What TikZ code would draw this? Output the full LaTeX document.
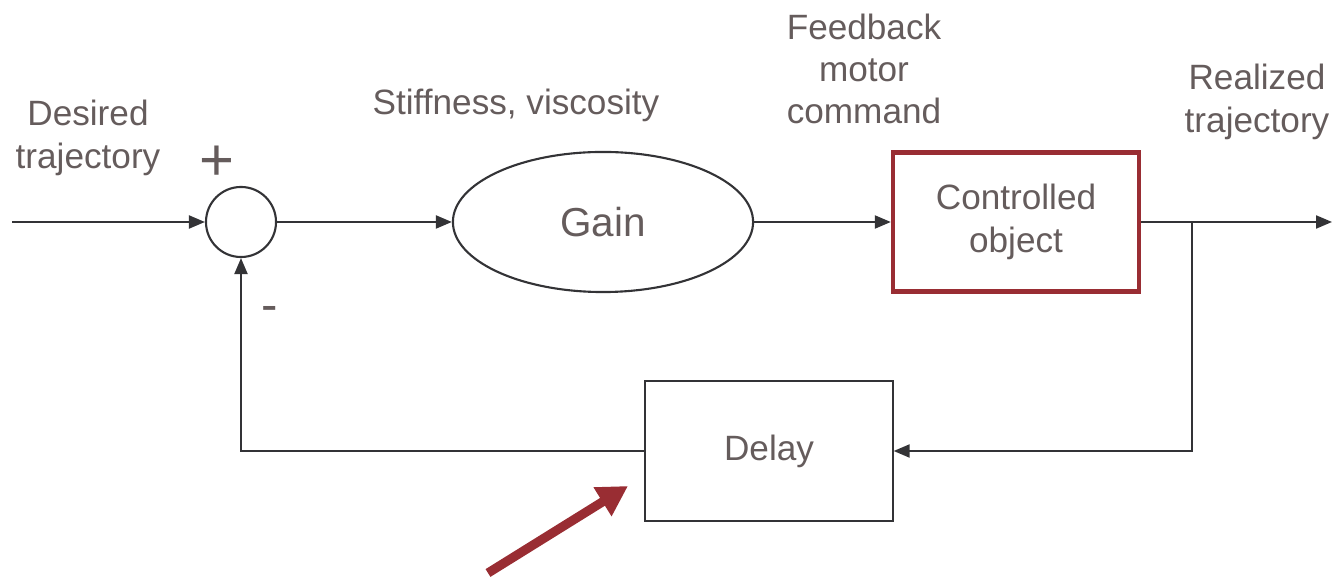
\documentclass[tikz,border=0pt]{standalone}
\usepackage{fontspec}
\setmainfont{Liberation Sans}
\usetikzlibrary{arrows.meta,shapes.geometric}

\definecolor{txtgray}{HTML}{655C5C}
\definecolor{linegray}{HTML}{333336}
\definecolor{boxred}{HTML}{992D33}

\tikzset{
  lbl/.style={text=txtgray, font=\fontsize{10}{12}\selectfont, align=center},
  wire/.style={draw=linegray, line width=0.6pt},
  sig/.style={wire, -{Triangle[length=0.16cm,width=0.13cm]}},
  sumnode/.style={circle, draw=linegray, line width=0.6pt, minimum size=0.7cm, inner sep=0pt},
  gainnode/.style={ellipse, draw=linegray, line width=0.6pt, minimum width=3cm, minimum height=1.4cm},
  plantbox/.style={draw=boxred, line width=1.2pt, minimum width=2.46cm, minimum height=1.39cm},
  delaybox/.style={draw=linegray, line width=0.6pt, minimum width=2.47cm, minimum height=1.4cm}
}

\begin{document}
\begin{tikzpicture}[x=0.01cm, y=-0.01cm]
\useasboundingbox (0,0) rectangle (1334,577);
% Blocks
\node[sumnode] (sum) at (241,222) {};
\node[gainnode, lbl, font=\fontsize{11.5}{13}\selectfont] (gain) at (603,222) {Gain};
\node[plantbox, lbl] (plant) at (1016,222) {Controlled\\object};
\node[delaybox, lbl] (delay) at (769,451) {Delay};
% Labels
\node[lbl] (desired) at (88,138) {Desired\\trajectory};
\node[lbl, font=\fontsize{17}{17}\selectfont] (plus) at (217,163) {+};
\node[lbl, font=\fontsize{14}{14}\selectfont] (minus) at (270,314) {-};
\node[lbl] (stiff) at (516,105) {Stiffness, viscosity};
\node[lbl] (cmd) at (864,69) {Feedback\\motor\\command};
\node[lbl] (realized) at (1257,102) {Realized\\trajectory};
% Free ends and corners
\coordinate (in) at (12,222);
\coordinate (out) at (1332,222);
\coordinate (tap) at (1192,222);
\coordinate (tapdown) at (1192,451);
\coordinate (back) at (241,451);
\coordinate (pointer) at (488,573);
\coordinate (pointtip) at (628,486);
% Lines
\draw[sig] (in) -- (sum.west);
\draw[sig] (sum.east) -- (gain.west);
\draw[sig] (gain.east) -- (plant.west);
\draw[sig] (plant.east) -- (out);
\draw[sig] (tap) -- (tapdown) -- (delay.east);
\draw[sig] (delay.west) -- (back) -- (sum.south);
% Pointer arrow
\draw[boxred, line width=2.6pt, -{Triangle[length=0.3cm,width=0.32cm]}] (pointer) -- (pointtip);
\end{tikzpicture}
\end{document}
